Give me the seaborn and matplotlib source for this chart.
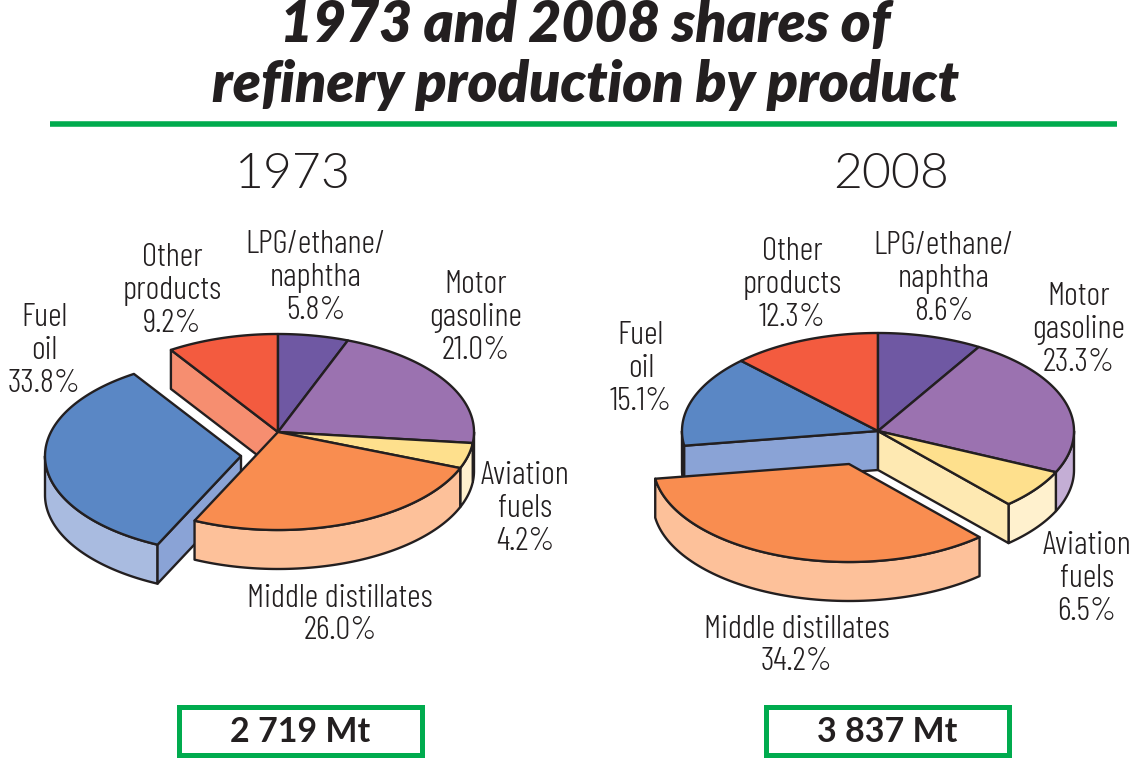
import numpy as np
import matplotlib
matplotlib.use('Agg')
import matplotlib.pyplot as plt
from matplotlib.patches import Rectangle
import seaborn as sns

# ------ data
products = ['LPG/ethane/\nnaphtha', 'Motor\ngasoline', 'Aviation\nfuels',
            'Middle distillates', 'Fuel\noil', 'Other\nproducts']
shares_1973 = [5.8, 21.0, 4.2, 26.0, 33.8, 9.2]
shares_2008 = [8.6, 23.3, 6.5, 34.2, 15.1, 12.3]
totals = ['2 719 Mt', '3 837 Mt']
years = ['1973', '2008']
title = '1973 and 2008 shares of\nrefinery production by product'

# ------ colours per product (top, rim, cut face)
top_cols = sns.color_palette(['#6F58A3', '#9B72B0', '#FEE08D', '#F98D50', '#5A87C5', '#F35B3F'])
rim_cols = sns.color_palette(['#B9A9D2', '#C4AED5', '#FFF1CE', '#FDC19A', '#A9BBE0', '#F68E70'])
face_cols = sns.color_palette(['#B9A9D2', '#C4AED5', '#FEE9B2', '#FDC19A', '#8AA3D6', '#F68E70'])
INK = '#231F20'
GREEN = '#00AB4E'

sns.set_theme(style='white')
FONT = 'Barlow Condensed'


def ell(cx, cy, t):
    t = np.radians(t)
    return cx + RX * np.sin(t), cy - RY * np.cos(t)


def draw_pie(ax, shares, cx, cy, order, offsets, faces):
    ends = np.cumsum(shares) * 3.6
    starts = ends - np.array(shares) * 3.6
    for i in order:
        ox, oy = offsets.get(i, (0, 0))
        x0, y0 = cx + ox, cy + oy
        # rim, only the front half of the ellipse shows
        a, b = max(starts[i], 90), min(ends[i], 270)
        if b > a:
            t = np.linspace(a, b, 80)
            x, y = ell(x0, y0, t)
            ax.fill(np.r_[x, x[::-1]], np.r_[y, y[::-1] + DEPTH],
                    fc=rim_cols[i], ec=INK, lw=LW, joinstyle='round')
        # cut side
        if i in faces:
            ang = starts[i] if faces[i] == 'start' else ends[i]
            x, y = ell(x0, y0, ang)
            ax.fill([x0, x, x, x0], [y0, y, y + DEPTH, y0 + DEPTH],
                    fc=face_cols[i], ec=INK, lw=LW, joinstyle='round')
        # top
        t = np.linspace(starts[i], ends[i], 150)
        x, y = ell(x0, y0, t)
        ax.fill(np.r_[x0, x], np.r_[y0, y], fc=top_cols[i], ec=INK, lw=LW, joinstyle='round')


def put_labels(ax, shares, places):
    for name, val, (x, y) in zip(products, shares, places):
        ax.text(x, y, '{}\n{:.1f}%'.format(name, val), ha='center', va='center',
                fontsize=24, family=FONT, weight=300, color=INK, linespacing=1.13)


RX, RY, DEPTH, LW = 196, 98, 39, 1.7

fig = plt.figure(figsize=(11.47, 7.65), dpi=100, facecolor='white')
ax = fig.add_axes([0, 0, 1, 1])
ax.set_xlim(0, 1147)
ax.set_ylim(765, 0)
ax.axis('off')

ax.text(585, 55, title, ha='center', va='center', fontsize=41, family='Lato',
        weight=800, style='italic', color=INK, linespacing=1.17)
ax.plot([50, 1117], [123.5, 123.5], color=GREEN, lw=4, solid_capstyle='butt')

ax.text(293, 174, years[0], ha='center', va='center', fontsize=36, family='Lato', weight=300, color=INK)
ax.text(891, 174, years[1], ha='center', va='center', fontsize=36, family='Lato', weight=300, color=INK)

draw_pie(ax, shares_1973, 278, 432, [5, 0, 1, 2, 4, 3], {4: (-37, 24)}, {5: 'start', 4: 'start'})
draw_pie(ax, shares_2008, 878, 431, [4, 5, 0, 1, 2, 3], {3: (-29, 33)}, {4: 'start', 2: 'end'})

put_labels(ax, shares_1973, [(316, 278), (476, 318), (525, 509), (340, 615), (44, 351), (172, 291)])
put_labels(ax, shares_2008, [(944, 279), (1079, 330), (1087, 579), (797, 646), (641, 369), (792, 285)])

for x, txt in zip([178.5, 765.5], totals):
    ax.add_patch(Rectangle((x, 706.5), 243, 48, fc='white', ec=GREEN, lw=3.6, joinstyle='miter'))
    ax.text(x + 122, 732, txt, ha='center', va='center', fontsize=24.5, family='Lato',
            weight='bold', color=INK)

sns.despine(ax=ax, left=True, bottom=True)
fig.savefig('out.png', dpi=100)
